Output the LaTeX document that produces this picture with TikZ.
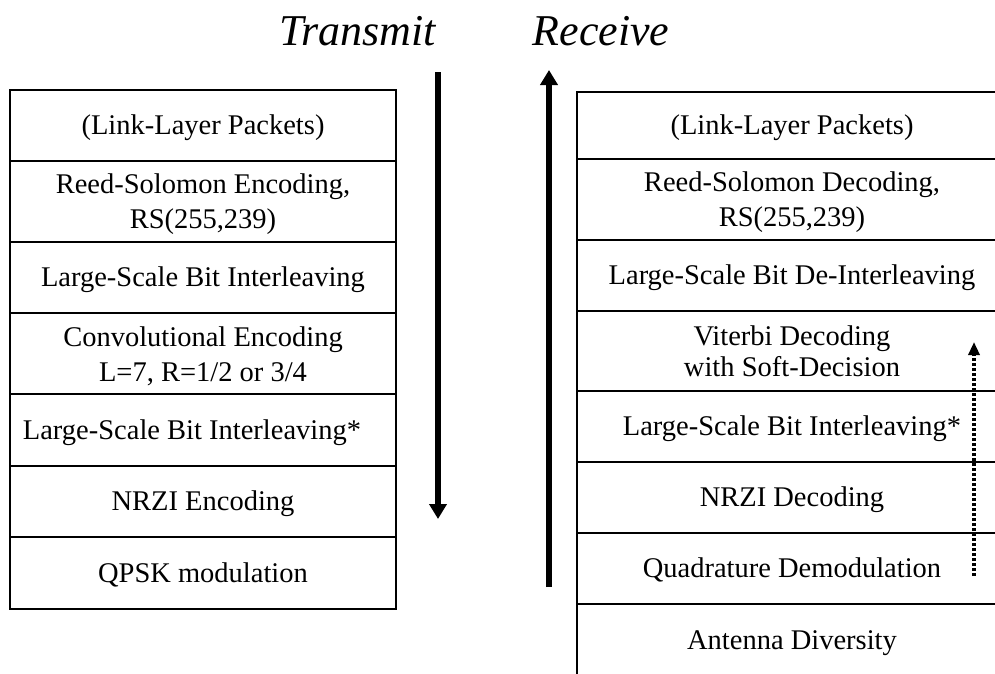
\documentclass[tikz,border=0pt]{standalone}
\usepackage{fontspec}
\setmainfont{Liberation Serif}
\usetikzlibrary{arrows.meta}
\begin{document}
\begin{tikzpicture}[x=1pt,y=-1pt,
  rowbox/.style={draw, line width=1.7pt, inner sep=0pt, text height=18.8pt, text depth=0pt, font=\fontsize{28.5}{35}\selectfont},
  lbox/.style={rowbox, minimum width=386pt},
  rbox/.style={rowbox, minimum width=430pt},
  twoline/.style={inner sep=0pt, align=center, font=\fontsize{28.5}{#1}\selectfont},
  title/.style={anchor=base, inner sep=0pt, font=\fontsize{44}{48}\selectfont\itshape},
  bigarrow/.style={line width=6.5pt, -{Triangle[width=17pt,length=15pt]}},
  dotarrow/.style={line width=3.5pt, dash pattern=on 3pt off 2pt, -{Triangle[width=11pt,length=13pt]}}]
\clip (0,0) rectangle (995,673);
% titles
\node[title] (ttx) at (357.5,45) {Transmit};
\node[title] (trx) at (601,45) {Receive};
% transmit stack
\node[lbox, minimum height=71pt] (l1) at (203,125.5) {(Link-Layer Packets)};
\node[lbox, minimum height=81pt] (l2) at (203,201.5) {};
\node[twoline=35pt] (l2t) at (203,204.25) {Reed-Solomon Encoding,\\RS(255,239)};
\node[lbox, minimum height=71pt] (l3) at (203,277.5) {Large-Scale Bit Interleaving};
\node[lbox, minimum height=81pt] (l4) at (203,353.5) {};
\node[twoline=35pt] (l4t) at (203,356.75) {Convolutional Encoding\\L=7, R=1/2 or 3/4};
\node[lbox, minimum height=72pt] (l5) at (203,430) {Large-Scale Bit Interleaving*\hspace*{22pt}};
\node[lbox, minimum height=71pt] (l6) at (203,501.5) {NRZI Encoding};
\node[lbox, minimum height=72pt] (l7) at (203,573) {QPSK modulation};
% receive stack
\node[rbox, minimum height=67pt] (r1) at (792,125.5) {(Link-Layer Packets)};
\node[rbox, minimum height=81pt] (r2) at (792,199.5) {};
\node[twoline=35pt] (r2t) at (792,202.25) {Reed-Solomon Decoding,\\RS(255,239)};
\node[rbox, minimum height=71pt] (r3) at (792,275.5) {Large-Scale Bit De-Interleaving};
\node[rbox, minimum height=80pt] (r4) at (792,351) {};
\node[twoline=31pt] (r4t) at (792,350.95) {Viterbi Decoding\\with Soft-Decision};
\node[rbox, minimum height=71pt] (r5) at (792,426.5) {Large-Scale Bit Interleaving*};
\node[rbox, minimum height=71pt] (r6) at (792,497.5) {NRZI Decoding};
\node[rbox, minimum height=71pt] (r7) at (792,568.5) {Quadrature Demodulation};
\node[rbox, minimum height=72pt] (r8) at (792,640) {Antenna Diversity};
% arrows
\coordinate (ta) at (438,72);
\coordinate (tb) at (438,519);
\coordinate (ra) at (549,587);
\coordinate (rb) at (549,70);
\coordinate (da) at (974,576);
\coordinate (db) at (974,342);
\draw[bigarrow] (ta) -- (tb);
\draw[bigarrow] (ra) -- (rb);
\draw[dotarrow] (da) -- (db);
\end{tikzpicture}
\end{document}
